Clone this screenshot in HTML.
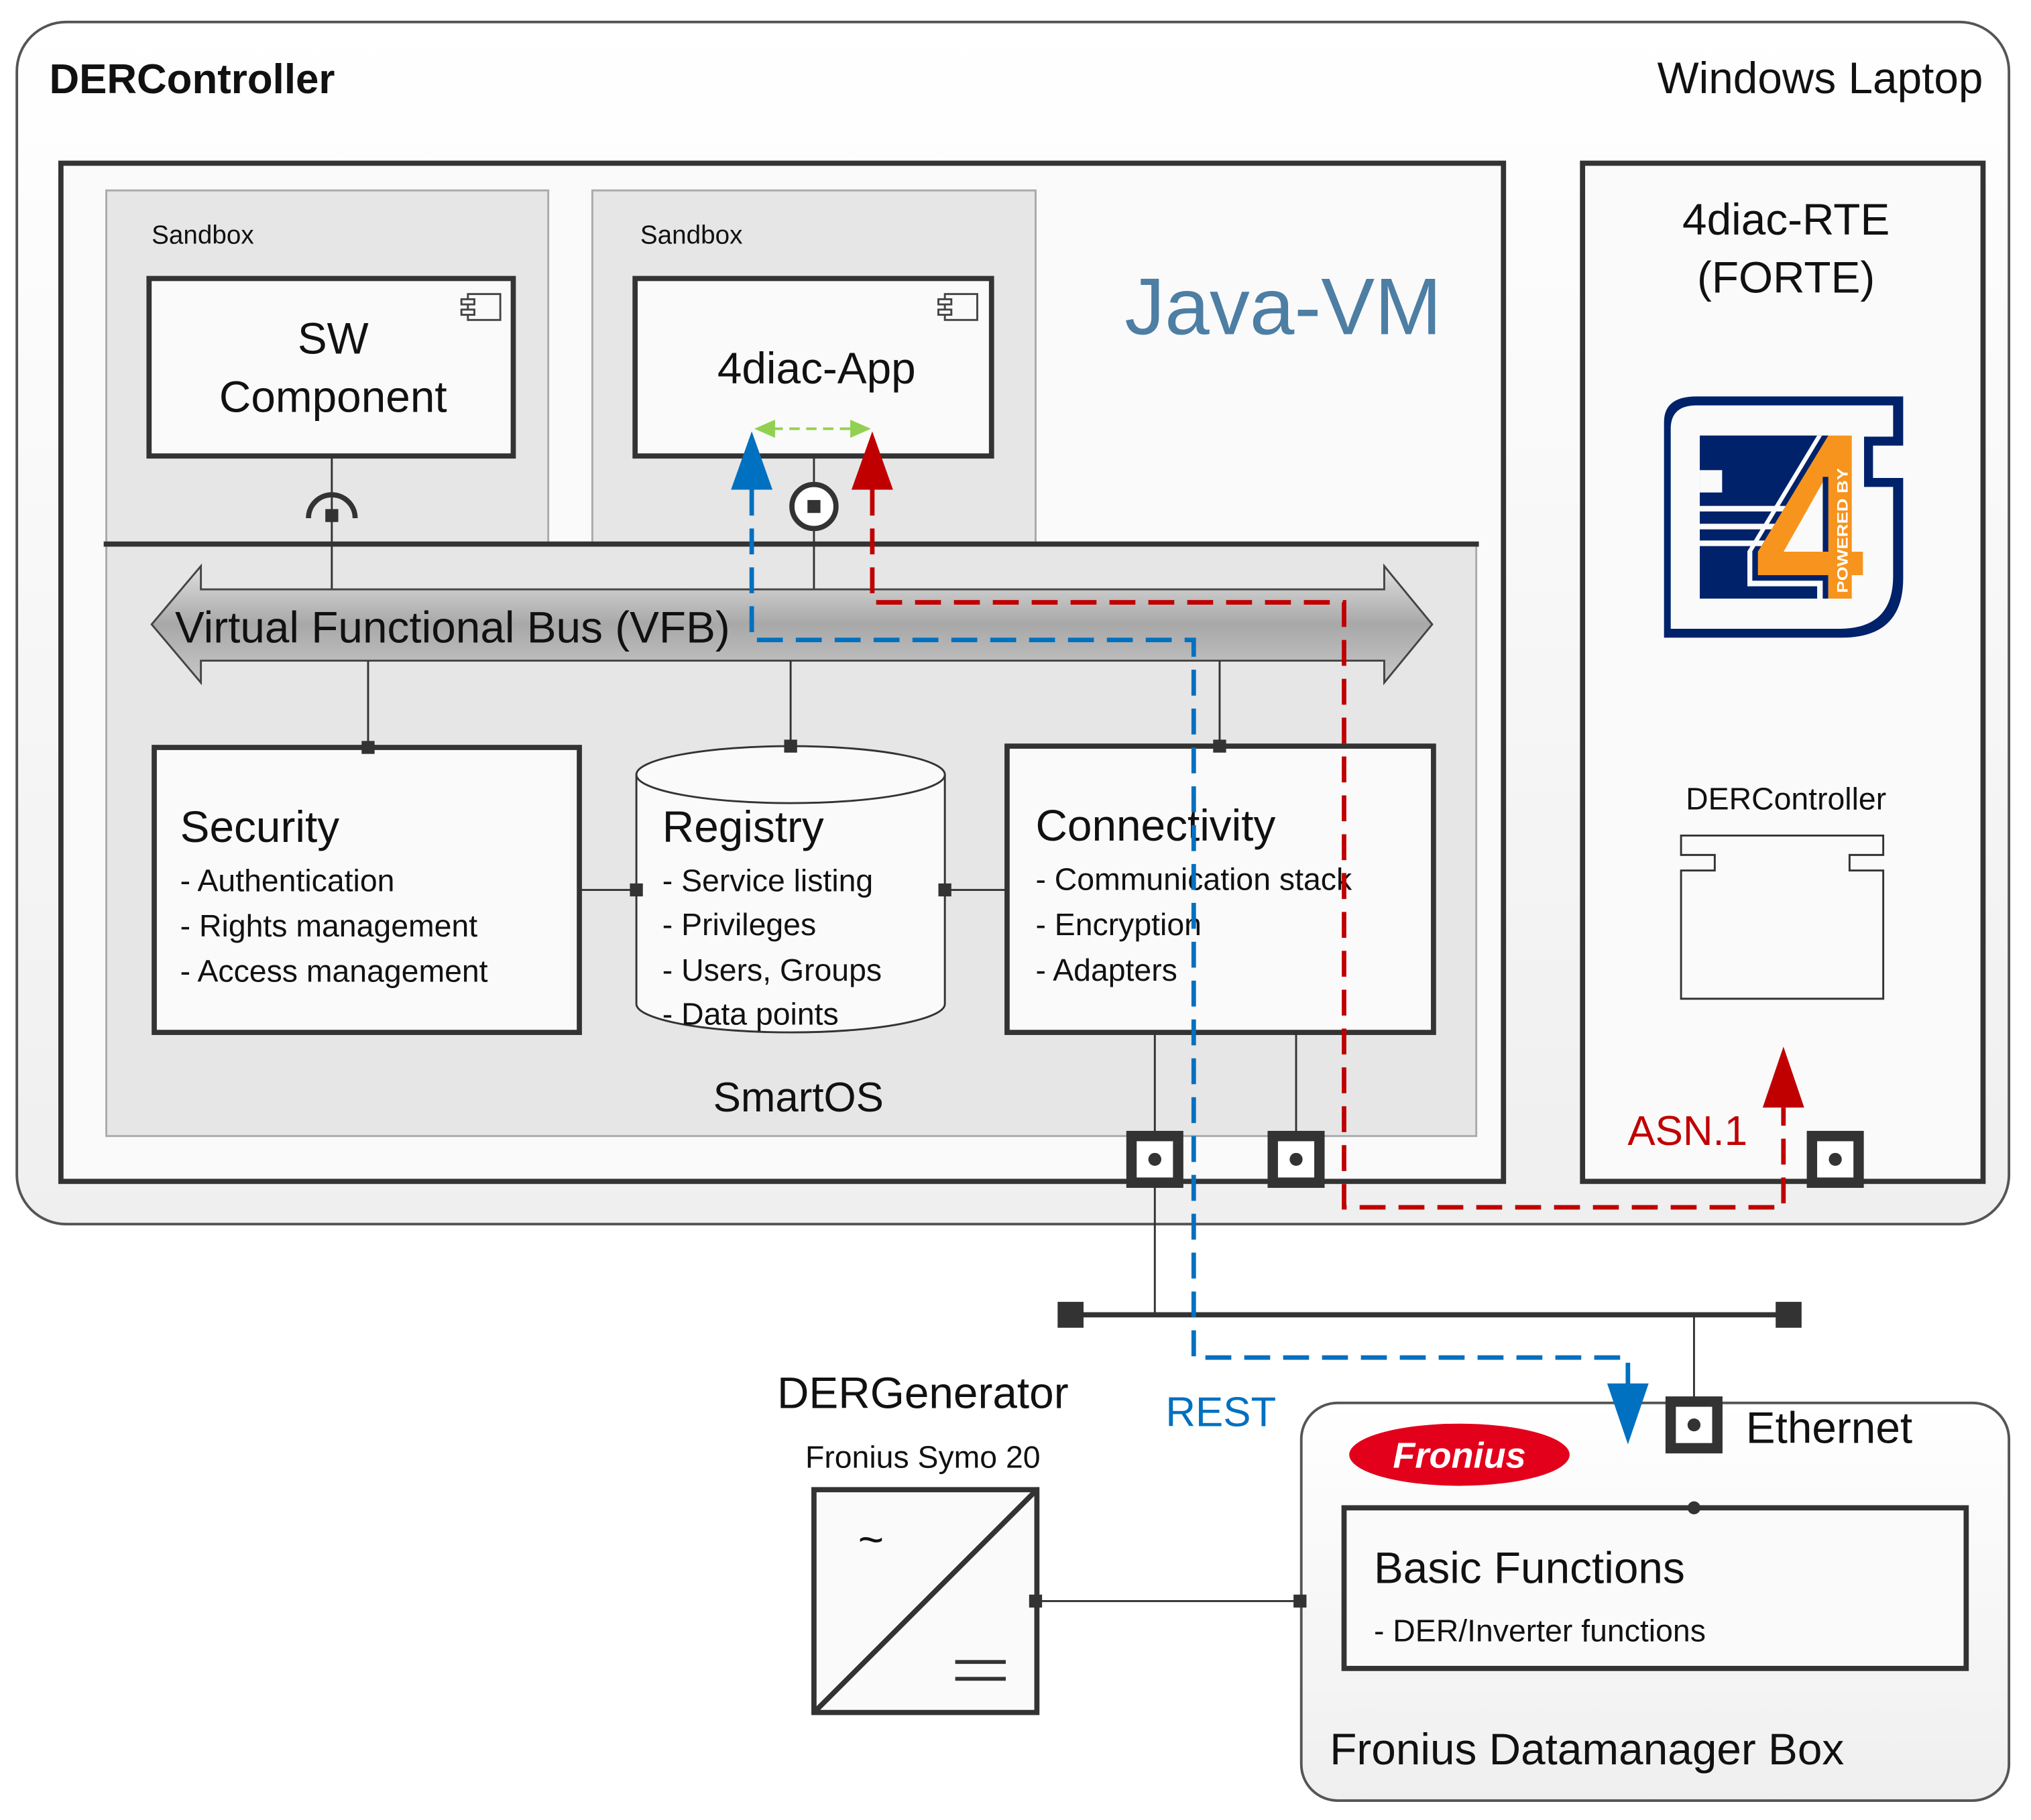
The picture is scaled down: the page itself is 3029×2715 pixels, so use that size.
<!DOCTYPE html>
<html><head><style>html,body{margin:0;padding:0;background:#fff}svg{display:block}</style></head>
<body>
<svg width="3029" height="2715" viewBox="0 0 1567 1405" preserveAspectRatio="none" xmlns="http://www.w3.org/2000/svg" font-family="Liberation Sans, sans-serif">
<defs>
<linearGradient id="bg" x1="0" y1="0" x2="0" y2="1"><stop offset="0" stop-color="#fff"/><stop offset="1" stop-color="#efefef"/></linearGradient>
<linearGradient id="vfb" x1="0" y1="0" x2="0" y2="1"><stop offset="0" stop-color="#e0e0e0"/><stop offset="0.5" stop-color="#a8a8a8"/><stop offset="1" stop-color="#c8c8c8"/></linearGradient>
</defs>
<rect width="1567" height="1405" fill="#fff"/>
<rect x="13" y="17" width="1537" height="928" rx="38" fill="url(#bg)" stroke="#555" stroke-width="2"/>
<text x="38" y="72" font-size="32" font-weight="bold" fill="#111">DERController</text>
<text x="1530" y="72" font-size="34" text-anchor="end" fill="#111">Windows Laptop</text>
<rect x="47" y="126" width="1113" height="786" fill="#fafafa" stroke="#333" stroke-width="4"/>
<rect x="1221" y="126" width="309" height="786" fill="#fafafa" stroke="#333" stroke-width="4"/>
<rect x="82" y="147" width="341" height="273" fill="#e6e6e6" stroke="#aaa" stroke-width="1.5"/>
<rect x="457" y="147" width="342" height="273" fill="#e6e6e6" stroke="#aaa" stroke-width="1.5"/>
<rect x="82" y="420" width="1057" height="457" fill="#e6e6e6" stroke="#aaa" stroke-width="1.5"/>
<line x1="80" y1="420" x2="1141" y2="420" stroke="#333" stroke-width="4"/>
<text x="117" y="188" font-size="20" fill="#111">Sandbox</text>
<text x="494" y="188" font-size="20" fill="#111">Sandbox</text>
<text x="990" y="258" font-size="62" text-anchor="middle" fill="#4d7ea4">Java-VM</text>
<rect x="115" y="215" width="281" height="137" fill="#fafafa" stroke="#333" stroke-width="4"/>
<text x="257" y="273" font-size="34" text-anchor="middle" fill="#111">SW</text>
<text x="257" y="318" font-size="34" text-anchor="middle" fill="#111">Component</text>
<g fill="none" stroke="#444" stroke-width="1.5"><rect x="361" y="227" width="25" height="20"/><rect x="356" y="231" width="10" height="4" fill="#fff"/><rect x="356" y="239" width="10" height="4" fill="#fff"/></g>
<rect x="490" y="215" width="275" height="137" fill="#fafafa" stroke="#333" stroke-width="4"/>
<text x="630" y="296" font-size="34" text-anchor="middle" fill="#111">4diac-App</text>
<g fill="none" stroke="#444" stroke-width="1.5"><rect x="729" y="227" width="25" height="20"/><rect x="724" y="231" width="10" height="4" fill="#fff"/><rect x="724" y="239" width="10" height="4" fill="#fff"/></g>
<line x1="256" y1="352" x2="256" y2="455" stroke="#333" stroke-width="1.5"/>
<path d="M238 400 A18 18 0 0 1 274 400" fill="none" stroke="#333" stroke-width="4"/>
<rect x="251" y="393" width="10" height="10" fill="#333"/>
<line x1="628" y1="352" x2="628" y2="455" stroke="#333" stroke-width="1.5"/>
<circle cx="628" cy="391" r="17" fill="#fff" stroke="#333" stroke-width="4"/>
<rect x="623" y="386" width="10" height="10" fill="#333"/>
<path d="M117 482 L155 437 L155 455 L1068 455 L1068 437 L1105 482 L1068 527 L1068 510 L155 510 L155 527 Z" fill="url(#vfb)" stroke="#444" stroke-width="1.5"/>
<text x="135" y="496" font-size="34" fill="#111">Virtual Functional Bus (VFB)</text>
<g stroke="#333" stroke-width="1.5"><line x1="284" y1="510" x2="284" y2="577"/><line x1="610" y1="510" x2="610" y2="577"/><line x1="941" y1="510" x2="941" y2="576"/>
<line x1="447" y1="687" x2="491" y2="687"/><line x1="729" y1="687" x2="777" y2="687"/></g>
<rect x="119" y="577" width="328" height="220" fill="#fafafa" stroke="#333" stroke-width="4"/>
<text x="139" y="650" font-size="34" fill="#111">Security</text>
<g font-size="24" fill="#111"><text x="139" y="688">- Authentication</text><text x="139" y="723">- Rights management</text><text x="139" y="758">- Access management</text></g>
<path d="M491 598 L491 775 A119 22 0 0 0 729 775 L729 598" fill="#fafafa" stroke="#333" stroke-width="1.5"/>
<ellipse cx="610" cy="598" rx="119" ry="22" fill="#fafafa" stroke="#333" stroke-width="1.5"/>
<text x="511" y="650" font-size="34" fill="#111">Registry</text>
<g font-size="24" fill="#111"><text x="511" y="688">- Service listing</text><text x="511" y="722">- Privileges</text><text x="511" y="757">- Users, Groups</text><text x="511" y="791">- Data points</text></g>
<rect x="777" y="576" width="329" height="221" fill="#fafafa" stroke="#333" stroke-width="4"/>
<text x="799" y="649" font-size="34" fill="#111">Connectivity</text>
<g font-size="24" fill="#111"><text x="799" y="687">- Communication stack</text><text x="799" y="722">- Encryption</text><text x="799" y="757">- Adapters</text></g>
<g fill="#333"><rect x="279" y="572" width="10" height="10"/><rect x="605" y="571" width="10" height="10"/><rect x="936" y="571" width="10" height="10"/><rect x="486" y="682" width="10" height="10"/><rect x="724" y="682" width="10" height="10"/></g>
<text x="616" y="858" font-size="32" text-anchor="middle" fill="#111">SmartOS</text>
<g stroke="#333" stroke-width="1.5"><line x1="891" y1="797" x2="891" y2="1015"/><line x1="1000" y1="797" x2="1000" y2="875"/><line x1="1307" y1="1015" x2="1307" y2="1164"/><line x1="800" y1="1236" x2="1004" y2="1236"/></g>
<g>
<rect x="869" y="873" width="44" height="44" fill="#333"/><rect x="877" y="881" width="28" height="28" fill="#fff"/><circle cx="891" cy="895" r="5" fill="#333"/>
<rect x="978" y="873" width="44" height="44" fill="#333"/><rect x="986" y="881" width="28" height="28" fill="#fff"/><circle cx="1000" cy="895" r="5" fill="#333"/>
<rect x="1394" y="873" width="44" height="44" fill="#333"/><rect x="1402" y="881" width="28" height="28" fill="#fff"/><circle cx="1416" cy="895" r="5" fill="#333"/>
</g>
<text x="1378" y="181" font-size="34" text-anchor="middle" fill="#111">4diac-RTE</text>
<text x="1378" y="226" font-size="34" text-anchor="middle" fill="#111">(FORTE)</text>
<g transform="translate(1283 300) scale(0.17245)">
<path d="M5 1115 L5 150 Q5 35 150 35 L1075 35 L1075 255 L940 255 L940 400 L1075 400 L1075 850 Q1075 1115 800 1115 Z" fill="#00226a"/>
<path d="M35 1075 L35 180 Q35 75 150 75 L1030 75 L1030 215 L900 215 L900 440 L1030 440 L1030 840 Q1030 1075 790 1075 Z" fill="#fafafa"/>
<rect x="165" y="210" width="575" height="730" fill="#00226a"/>
<rect x="165" y="525" width="400" height="25" fill="#fafafa"/>
<rect x="165" y="605" width="400" height="25" fill="#fafafa"/>
<rect x="165" y="680" width="400" height="25" fill="#fafafa"/>
<rect x="165" y="365" width="100" height="100" fill="#fafafa"/>
<polygon points="690,210 712,210 400,728 400,860 715,860 715,940 690,940 690,885 378,885 378,728" fill="#fafafa"/>
<polygon points="740,210 845,210 845,730 895,730 895,835 845,835 845,940 740,940 740,835 425,835 425,730" fill="#f7941d"/>
<rect x="715" y="395" width="25" height="335" fill="#00226a"/>
<polygon points="715,420 715,730 540,730" fill="#fafafa"/>
<text transform="translate(826 915) rotate(-90)" font-size="66" font-weight="bold" fill="#fff" textLength="560" lengthAdjust="spacingAndGlyphs">POWERED BY</text>
</g>
<text x="1378" y="625" font-size="24" text-anchor="middle" fill="#111">DERController</text>
<path d="M1297 645 L1453 645 L1453 660 L1427 660 L1427 672 L1453 672 L1453 771 L1297 771 L1297 672 L1323 672 L1323 660 L1297 660 Z" fill="#fafafa" stroke="#333" stroke-width="1.5"/>
<text x="1302" y="884" font-size="32" text-anchor="middle" fill="#c00000">ASN.1</text>
<line x1="826" y1="1015" x2="1380" y2="1015" stroke="#333" stroke-width="4"/>
<rect x="816" y="1005" width="20" height="20" fill="#333"/><rect x="1370" y="1005" width="20" height="20" fill="#333"/>
<rect x="1004" y="1083" width="546" height="307" rx="28" fill="url(#bg)" stroke="#555" stroke-width="2"/>
<ellipse cx="1126" cy="1123" rx="85" ry="24" fill="#e3001b"/>
<text x="1126" y="1133" font-size="28" font-style="italic" font-weight="bold" text-anchor="middle" fill="#fff">Fronius</text>
<rect x="1285" y="1078" width="44" height="44" fill="#333"/><rect x="1293" y="1086" width="28" height="28" fill="#fff"/><circle cx="1307" cy="1100" r="5" fill="#333"/>
<text x="1347" y="1114" font-size="34" fill="#111">Ethernet</text>
<rect x="1037" y="1164" width="480" height="124" fill="#fafafa" stroke="#333" stroke-width="4"/>
<circle cx="1307" cy="1164" r="5" fill="#333"/>
<text x="1060" y="1222" font-size="34" fill="#111">Basic Functions</text>
<text x="1060" y="1267" font-size="24" fill="#111">- DER/Inverter functions</text>
<text x="1026" y="1362" font-size="34" fill="#111">Fronius Datamanager Box</text>
<rect x="998" y="1231" width="10" height="10" fill="#333"/>
<text x="712" y="1087" font-size="34" text-anchor="middle" fill="#111">DERGenerator</text>
<text x="712" y="1133" font-size="24" text-anchor="middle" fill="#111">Fronius Symo 20</text>
<rect x="628" y="1150" width="172" height="172" fill="#fafafa" stroke="#333" stroke-width="4"/>
<line x1="628" y1="1322" x2="800" y2="1150" stroke="#333" stroke-width="4"/>
<text x="672" y="1200" font-size="34" text-anchor="middle" fill="#111">~</text>
<line x1="737" y1="1283" x2="776" y2="1283" stroke="#333" stroke-width="3"/><line x1="737" y1="1296" x2="776" y2="1296" stroke="#333" stroke-width="3"/>
<rect x="794" y="1231" width="10" height="10" fill="#333"/>
<text x="942" y="1101" font-size="32" text-anchor="middle" fill="#0070c0">REST</text>
<polyline points="673,378 673,465 1037,465 1037,932 1376,932 1376,855" fill="none" stroke="#c00000" stroke-width="3.5" stroke-dasharray="20,10"/>
<path d="M673 333 L657 378 L689 378 Z" fill="#c00000"/>
<path d="M1376 808 L1360 855 L1392 855 Z" fill="#c00000"/>
<polyline points="580,378 580,494 921,494 921,1048 1256,1048 1256,1070" fill="none" stroke="#0070c0" stroke-width="3.5" stroke-dasharray="20,10"/>
<path d="M580 333 L564 378 L596 378 Z" fill="#0070c0"/>
<path d="M1256 1115 L1240 1068 L1272 1068 Z" fill="#0070c0"/>
<line x1="596" y1="331" x2="658" y2="331" stroke="#92d050" stroke-width="2" stroke-dasharray="8,5"/>
<path d="M582 331 L598 324 L598 338 Z" fill="#92d050"/><path d="M672 331 L656 324 L656 338 Z" fill="#92d050"/>
</svg>
</body></html>
